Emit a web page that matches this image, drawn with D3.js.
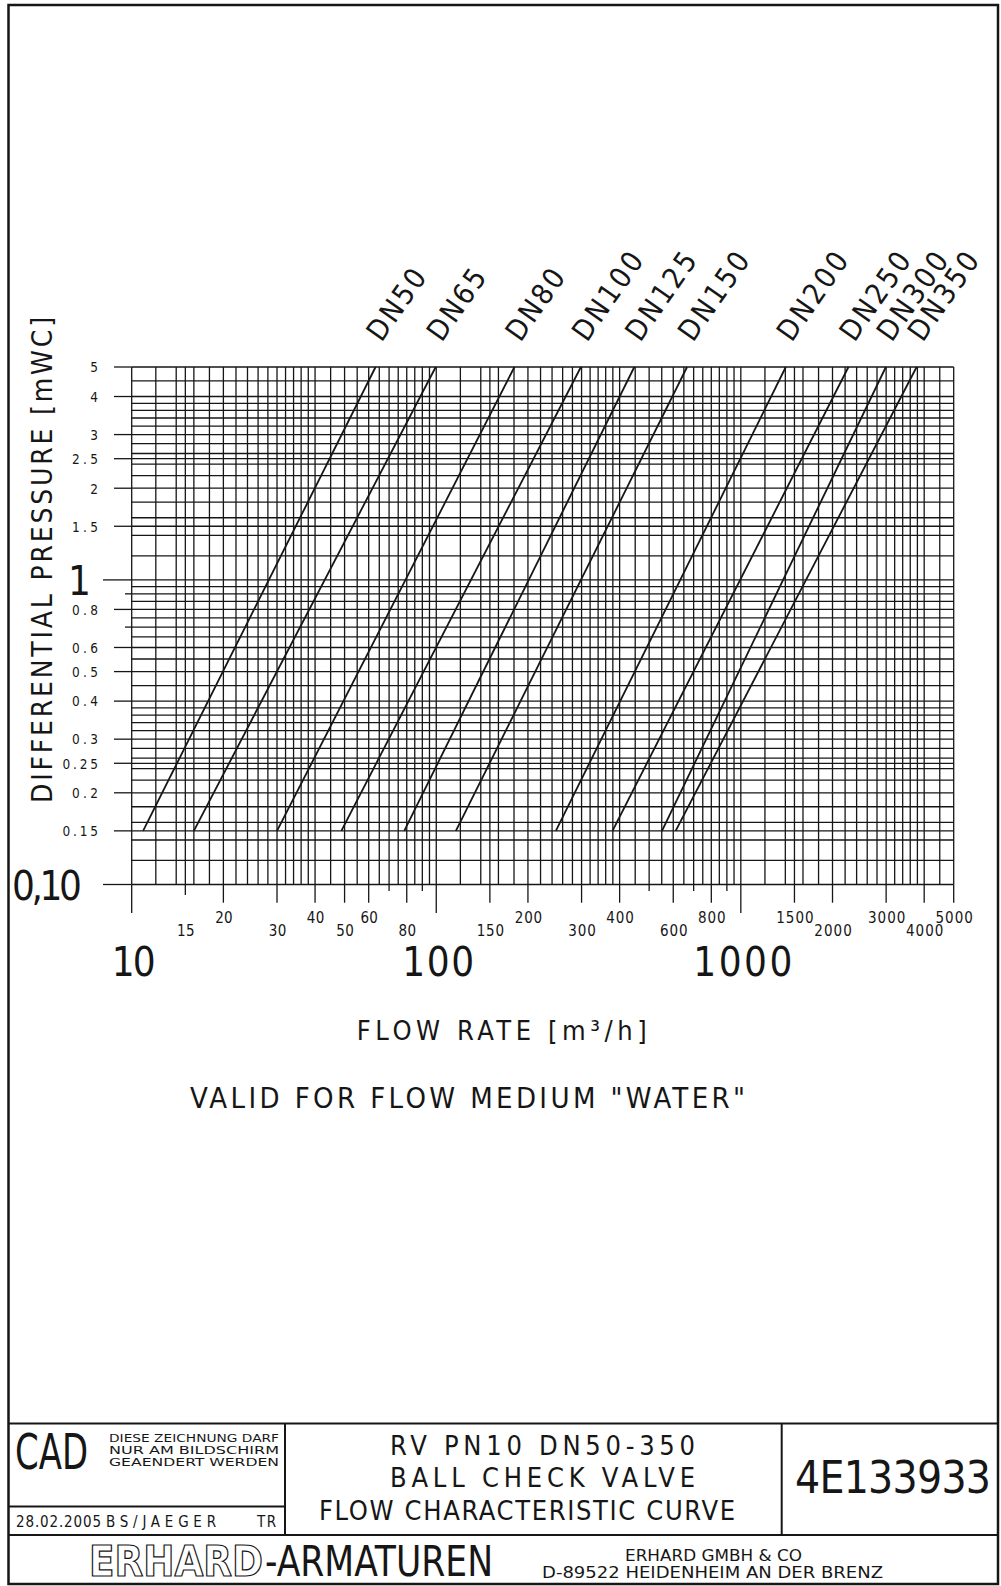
<!DOCTYPE html>
<html>
<head>
<meta charset="utf-8">
<script src="https://cdn.jsdelivr.net/npm/d3@7"></script>
<style>
body { margin: 0; background: #fff; }
svg { display: block; }
text { font-family: "Liberation Sans Narrow", "DejaVu Sans Condensed", "Liberation Sans", Arial, sans-serif; fill: #161616; }
</style>
</head>
<body>
<svg width="1001" height="1586"></svg>
<script>
// valve sizes and their curves (flow in m3/h read at 0.15 and at 5 mWC)
const sizes = ['DN50', 'DN65', 'DN80', 'DN100', 'DN125', 'DN150', 'DN200', 'DN250', 'DN300', 'DN350'];
const flowLow = [10.9, 16.0, 30.0, 48.8, 78.5, 116, 247, 379, 551, 611];
const flowHigh = [63.2, 99.6, 180.6, 298.5, 447, 666, 1405, 2256, 2994, 3778];
const pLow = 0.15, pHigh = 5;

// axis labels
const yLabels = [5, 4, 3, 2.5, 2, 1.5, 0.8, 0.6, 0.5, 0.4, 0.3, 0.25, 0.2, 0.15];
const yBig = [1, 0.1];
const yShort = [0.9, 0.7];
const xUpper = [20, 40, 60, 200, 400, 800, 1500, 3000, 5000];
const xLower = [15, 30, 50, 80, 150, 300, 600, 2000, 4000];
const xBig = [10, 100, 1000];
const xShort = [70, 90, 500, 700, 900];

// log paper subdivisions per decade
const gridMant = [1, 1.2, 1.4, 1.6, 1.8, 2, 2.2, 2.4, 2.6, 2.8, 3, 3.2, 3.4, 3.6, 3.8, 4, 4.5, 5, 5.5, 6, 6.5, 7, 7.5, 8, 8.5, 9, 9.5];

const svg = d3.select('svg');
const ink = '#161616';

const x = d3.scaleLog().domain([10, 5000]).range([131.7, 953.7]);
const y = d3.scaleLog().domain([0.1, 5]).range([884.5, 367]);

const xGrid = [10, 100, 1000].flatMap(d => gridMant.map(m => +(m * d).toFixed(3)))
    .filter(v => v <= 5000).concat([15, 150, 1500]);
const yGrid = [0.1, 1].flatMap(d => gridMant.map(m => +(m * d).toFixed(4)))
    .filter(v => v <= 5).concat([0.15, 1.5, 0.25, 2.5]);

// frame + title block
const frame = svg.append('g').attr('stroke', ink).attr('fill', 'none');
frame.append('rect').attr('x', 8.5).attr('y', 5).attr('width', 989.5).attr('height', 1579).attr('stroke-width', 2.5);
[[8.5, 1423.5, 998, 1423.5], [8.5, 1535, 998, 1535], [285, 1423.5, 285, 1535],
 [781.7, 1423.5, 781.7, 1535], [8.5, 1506.5, 285, 1506.5]].forEach(l => {
    frame.append('line').attr('x1', l[0]).attr('y1', l[1]).attr('x2', l[2]).attr('y2', l[3]).attr('stroke-width', 2);
});

// grid
const grid = svg.append('g').attr('stroke', ink).attr('stroke-width', 1.3);
grid.selectAll('.v').data(xGrid).enter().append('line')
    .attr('x1', d => x(d)).attr('x2', d => x(d))
    .attr('y1', y(5)).attr('y2', y(0.1));
grid.selectAll('.h').data(yGrid).enter().append('line')
    .attr('x1', x(10)).attr('x2', x(5000))
    .attr('y1', d => y(d)).attr('y2', d => y(d));

// y ticks sticking out left
const yTickLen = d => yBig.includes(d) ? 103 : (yShort.includes(d) ? 125 : 114);
grid.selectAll('.yt').data(yLabels.concat(yBig, yShort)).enter().append('line')
    .attr('x1', d => yTickLen(d)).attr('x2', x(10))
    .attr('y1', d => y(d)).attr('y2', d => y(d));

// x ticks below
const xTickLen = d => xBig.includes(d) ? 28.5 : (xShort.includes(d) ? 6.5 : (d === 15 ? 10.5 : 18.2));
grid.selectAll('.xt').data(xUpper.concat(xLower, xBig, xShort)).enter().append('line')
    .attr('x1', d => x(d)).attr('x2', d => x(d))
    .attr('y1', y(0.1)).attr('y2', d => y(0.1) + xTickLen(d));

// small y labels
const yAxis = svg.append('g').attr('transform', `translate(${x(10)},0)`)
    .call(d3.axisLeft(y).tickValues(yLabels).tickSize(0).tickPadding(x(10) - 98)
        .tickFormat(d => String(d)));
yAxis.select('.domain').remove();
yAxis.selectAll('text')
    .attr('font-family', null).attr('font-size', 13.5).attr('dy', null)
    .attr('transform', 'translate(0,4.8)')
    .attr('textLength', d => 7 + 9.5 * (String(d).length - 1))
    .attr('lengthAdjust', 'spacing');

// big y labels
svg.append('text').attr('x', 91).attr('y', y(1) + 15).attr('text-anchor', 'end')
    .attr('font-size', 40).text('1');
svg.append('text').attr('x', 12).attr('y', y(0.1) + 15.5)
    .attr('font-size', 40).attr('textLength', 70).attr('lengthAdjust', 'spacing').text('0,10');

// x labels
function xLabelAxis(vals, base) {
    const a = svg.append('g').attr('transform', `translate(0,${base})`)
        .call(d3.axisBottom(x).tickValues(vals).tickSize(0).tickPadding(0).tickFormat(d => String(d)));
    a.select('.domain').remove();
    a.selectAll('text').attr('font-family', null).attr('font-size', 15).attr('dy', null).attr('y', 0)
        .attr('textLength', d => 7.5 + 10 * (String(d).length - 1)).attr('lengthAdjust', 'spacing');
}
xLabelAxis(xUpper, 922.7);
xLabelAxis(xLower, 936);

const bigAxis = svg.append('g').attr('transform', 'translate(1.5,975.6)')
    .call(d3.axisBottom(x).tickValues(xBig).tickSize(0).tickPadding(0).tickFormat(d => String(d)));
bigAxis.select('.domain').remove();
bigAxis.selectAll('text').attr('font-family', null).attr('font-size', 40).attr('dy', null).attr('y', 0)
    .attr('textLength', d => [44, 72, 99][xBig.indexOf(d)]).attr('lengthAdjust', 'spacing');

// curves
const line = d3.line().x(d => x(d[0])).y(d => y(d[1]));
svg.append('g').selectAll('path').data(sizes).enter().append('path')
    .attr('d', (s, i) => line([[flowLow[i], pLow], [flowHigh[i], pHigh]]))
    .attr('fill', 'none').attr('stroke', ink).attr('stroke-width', 1.8);

// DN labels
svg.append('g').selectAll('text').data(sizes).enter().append('text')
    .attr('transform', (s, i) => `translate(${x(flowHigh[i]) + 6},343) rotate(-55)`)
    .attr('font-size', 29)
    .attr('textLength', s => 20.5 * s.length - 2).attr('lengthAdjust', 'spacing')
    .text(s => s);

// axis titles
svg.append('text').attr('transform', 'translate(51.7,803) rotate(-90)')
    .attr('font-size', 28).attr('textLength', 486).attr('lengthAdjust', 'spacing')
    .text('DIFFERENTIAL PRESSURE [mWC]');

function label(str, x0, x1, base, size, squeeze) {
    return svg.append('text').attr('x', x0).attr('y', base).attr('font-size', size)
        .attr('textLength', x1 - x0).attr('lengthAdjust', squeeze ? 'spacingAndGlyphs' : 'spacing')
        .text(str);
}
label('FLOW RATE  [m³/h]', 356.7, 646.7, 1040, 27);
label('VALID FOR FLOW MEDIUM "WATER"', 190, 745, 1108, 29);

// title block text
label('CAD', 15, 88, 1469, 50, true);
label('DIESE ZEICHNUNG DARF', 109, 279, 1441.5, 10.4, true);
label('NUR AM BILDSCHIRM', 109, 279, 1453.5, 10.4, true);
label('GEAENDERT WERDEN', 109, 279, 1465.5, 10.4, true);
label('28.02.2005', 16, 101, 1527, 15);
label('BS/JAEGER', 106, 216, 1527, 15);
label('TR', 257, 276, 1527, 15);
label('RV PN10 DN50-350', 390, 695, 1455, 27);
label('BALL CHECK VALVE', 390, 695, 1486.5, 27);
label('FLOW CHARACTERISTIC CURVE', 319, 735, 1520, 27);
label('4E133933', 795, 991, 1493, 44);
label('ERHARD', 89, 263, 1576, 42, true)
    .attr('font-family', '"DejaVu Serif", serif').attr('font-weight', 'bold')
    .style('fill', '#fff').attr('stroke', ink).attr('stroke-width', 1.2);
label('-ARMATUREN', 265, 493, 1576, 42, true);
label('ERHARD GMBH & CO', 625, 802, 1560.5, 15, true);
label('D-89522 HEIDENHEIM AN DER BRENZ', 542, 883, 1577.5, 15, true);
</script>
</body>
</html>
